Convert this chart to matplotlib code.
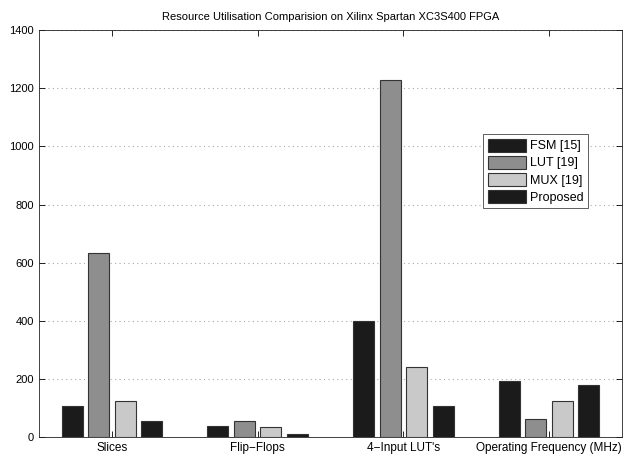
import matplotlib
matplotlib.use("Agg")
import matplotlib.pyplot as plt
import numpy as np

categories = ["Slices", "Flip\u2212Flops", "4\u2212Input LUT's", "Operating Frequency (MHz)"]
series_names = ["FSM [15]", "LUT [19]", "MUX [19]", "Proposed"]
fsm = [107, 38, 399, 193]
lut = [633, 55, 1228, 62]
mux = [124, 34, 241, 124]
proposed = [55, 10, 107, 179]
colors = ["#1b1b1b", "#8e8e8e", "#c9c9c9", "#1b1b1b"]

plt.rcParams["font.family"] = ["Liberation Sans", "DejaVu Sans"]

fig = plt.figure(figsize=(6.33, 4.55), dpi=100)
ax = fig.add_axes([0.0616, 0.0396, 0.921, 0.894])

x = np.arange(1, len(categories) + 1)
n = 4
group_w = min(0.8, n / (n + 1.5))
step = group_w / n
bw = step * 0.8
for i, (name, vals) in enumerate(zip(series_names, [fsm, lut, mux, proposed])):
    offs = (i - (n - 1) / 2) * step
    ax.bar(x + offs, vals, width=bw, color=colors[i], edgecolor="#333333",
           linewidth=0.8, label=name, zorder=3)

ax.set_xlim(0.5, 4.5)
ax.set_ylim(0, 1400)
ax.set_yticks(range(0, 1401, 200))
ax.set_xticks(x)
ax.set_xticklabels(categories, fontsize=8.5)
ax.tick_params(axis="y", labelsize=8)
ax.tick_params(direction="in", top=True, right=True, length=4, width=0.6)
ax.yaxis.grid(True, linestyle=(0, (1, 3)), color="#aaaaaa", linewidth=0.8)
for s in ax.spines.values():
    s.set_linewidth(0.6)
    s.set_color("#222222")

ax.set_title("Resource Utilisation Comparision on Xilinx Spartan XC3S400 FPGA",
             fontsize=8, pad=7)

leg = ax.legend(loc="upper left", bbox_to_anchor=(0.762, 0.744), fontsize=9,
                fancybox=False, framealpha=1, edgecolor="#444444",
                handlelength=3.1, handleheight=1.2, borderpad=0.35,
                labelspacing=0.28, handletextpad=0.3, borderaxespad=0)
leg.get_frame().set_linewidth(0.6)

fig.savefig("out.png", dpi=100)
